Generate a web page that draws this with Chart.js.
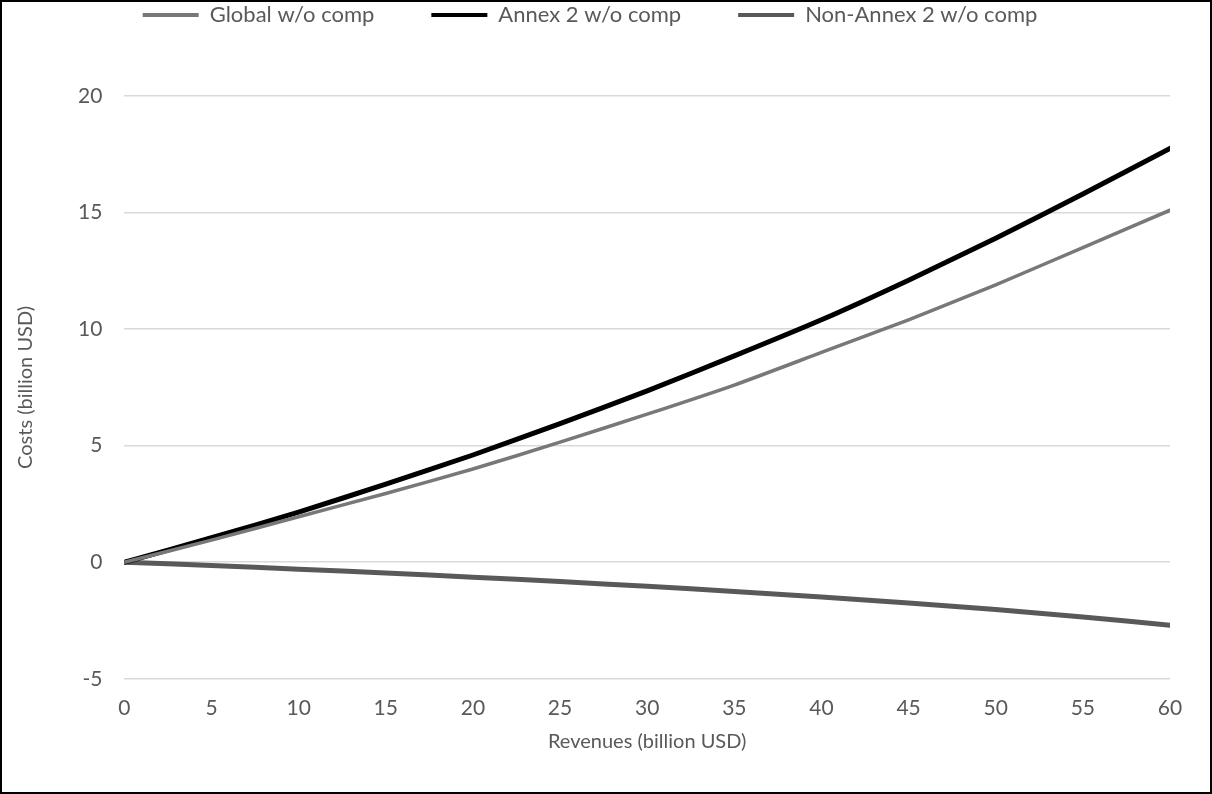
<!DOCTYPE html>
<html>
<head>
<meta charset="utf-8">
<script src="https://cdn.jsdelivr.net/npm/chart.js@4"></script>
<style>
  html, body { margin: 0; padding: 0; background: #fff; }
  #frame { width: 1212px; height: 794px; box-sizing: border-box; border: 2px solid #000; position: relative; }
  #chart-canvas { display: block; }
</style>
</head>
<body>
<div id="frame"><canvas id="chart-canvas"></canvas></div>
<script>
const revenues = [0, 5, 10, 15, 20, 25, 30, 35, 40, 45, 50, 55, 60]
const globalCosts = [0, 0.95, 1.95, 2.95, 4.0, 5.15, 6.35, 7.6, 9.0, 10.4, 11.9, 13.5, 15.1]
const annexCosts = [0, 1.05, 2.15, 3.35, 4.6, 5.95, 7.35, 8.85, 10.4, 12.1, 13.9, 15.8, 17.75]
const nonAnnexCosts = [0, -0.14, -0.3, -0.46, -0.64, -0.83, -1.03, -1.25, -1.49, -1.75, -2.03, -2.35, -2.7]
const seriesNames = ['Global w/o comp', 'Annex 2 w/o comp', 'Non-Annex 2 w/o comp']

const textColor = '#595959'
const fontFamily = 'Lato, "Open Sans", sans-serif'
const legendGap = '\u2002\u2002\u2002\u2002\u2002' // spacing between legend items

const toPoints = (ys) => revenues.map((x, i) => ({ x: x, y: ys[i] }))

const ctx = document.getElementById('chart-canvas')
ctx.width = 1208
ctx.height = 790

// push the plot down below the legend
const legendSpacer = {
    id: 'legendSpacer',
    beforeInit(chart) {
        const origFit = chart.legend.fit
        chart.legend.fit = function () {
            origFit.bind(chart.legend)()
            this.height += 60
        }
    }
}

const myChart = new Chart(ctx, {
    type: 'line',
    data: {
        datasets: [{
            label: seriesNames[0],
            data: toPoints(globalCosts),
            borderColor: '#787878',
            backgroundColor: '#787878',
            borderWidth: 3.5
        }, {
            label: seriesNames[1],
            data: toPoints(annexCosts),
            borderColor: '#000000',
            backgroundColor: '#000000',
            borderWidth: 5
        }, {
            label: seriesNames[2],
            data: toPoints(nonAnnexCosts),
            borderColor: '#595959',
            backgroundColor: '#595959',
            borderWidth: 5
        }]
    },
    options: {
        responsive: false,
        animation: false,
        elements: {
            point: { radius: 0 },
            line: { tension: 0.2, borderCapStyle: 'round', borderJoinStyle: 'round' }
        },
        layout: { padding: { left: 8, right: 40, top: 0, bottom: 34 } },
        plugins: {
            tooltip: { enabled: false },
            legend: {
                position: 'top',
                labels: {
                    color: textColor,
                    font: { family: fontFamily, size: 22 },
                    boxWidth: 56,
                    boxHeight: 4,
                    padding: 2,
                    generateLabels(chart) {
                        const items = Chart.defaults.plugins.legend.labels.generateLabels(chart)
                        return items.map((item, i) => {
                            item.lineWidth = 0
                            if (i < items.length - 1) item.text = item.text + legendGap
                            return item
                        })
                    }
                }
            }
        },
        scales: {
            x: {
                type: 'linear',
                min: 0,
                max: 60,
                grid: { display: false },
                border: { display: false },
                ticks: { stepSize: 5, color: textColor, font: { family: fontFamily, size: 21 }, padding: 9 },
                title: { display: true, text: 'Revenues (billion USD)', color: textColor, font: { family: fontFamily, size: 20 }, padding: { top: 0 } }
            },
            y: {
                min: -5,
                max: 20,
                grid: { color: '#d9d9d9', lineWidth: 1.5, drawTicks: false },
                border: { display: false },
                ticks: { stepSize: 5, color: textColor, font: { family: fontFamily, size: 21 }, padding: 22 },
                title: { display: true, text: 'Costs (billion USD)', color: textColor, font: { family: fontFamily, size: 20 }, padding: { bottom: 18 } }
            }
        }
    },
    plugins: [legendSpacer]
})
</script>
</body>
</html>
